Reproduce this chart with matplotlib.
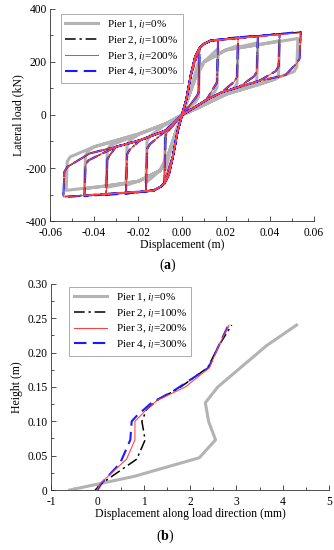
import numpy as np
import matplotlib
matplotlib.use('Agg')
import matplotlib.pyplot as plt
from matplotlib.ticker import MultipleLocator, FormatStrFormatter

plt.rcParams['font.family'] = 'Liberation Serif'
plt.rcParams['mathtext.fontset'] = 'custom'
plt.rcParams['mathtext.rm'] = 'Liberation Serif'
plt.rcParams['mathtext.it'] = 'Liberation Serif:italic'
plt.rcParams['mathtext.bf'] = 'Liberation Serif:bold'
plt.rcParams['axes.unicode_minus'] = False

labels = [r'Pier 1, $i_l$=0%', r'Pier 2, $i_l$=100%',
          r'Pier 3, $i_l$=200%', r'Pier 4, $i_l$=300%']

# ---- (a) hysteresis: cycle amplitudes (m) ----
amps = [0.008, 0.0164, 0.0255, 0.0345, 0.0444, 0.054]
amps_p1 = [0.008, 0.0164, 0.0255, 0.0345, 0.0444, 0.0527]

# loading skeleton, positive side (x, kN)
skel_x = [0.0, 0.002, 0.004, 0.006, 0.008, 0.010, 0.013]
skel_y = [0.0, 60, 150, 220, 252, 268, 280]
skel_x_p1 = [0.0, 0.003, 0.006, 0.010, 0.020, 0.035]
skel_y_p1 = [0.0, 70, 140, 200, 245, 265]
# loading skeleton, negative side
nskel_x = [0.0, -0.002, -0.004, -0.006, -0.008, -0.010, -0.013]
nskel_y = [0.0, -60, -150, -225, -258, -272, -285]
nskel_x_p1 = [0.0, -0.003, -0.006, -0.010, -0.020, -0.035]
nskel_y_p1 = [0.0, -70, -145, -210, -250, -268]

# unloading (return) branches
ret_x = [0.052, 0.047, 0.035, 0.026, 0.018, 0.011, 0.005, 0.0]
ret_y = [175, 150, 128, 106, 85, 56, 25, 0.0]
ret_x_p1 = [0.0505, 0.035, 0.020, 0.008, 0.0]
ret_y_p1 = [160, 115, 78, 30, 0.0]
nret_x = [-0.051, -0.042, -0.030, -0.019, -0.007, 0.0]
nret_y = [-171, -145, -120, -95, -57, 0.0]
nret_x_p1 = [-0.0517, -0.040, -0.019, -0.007, 0.0]
nret_y_p1 = [-158, -120, -70, -32, 0.0]

# peak loads and load at end of the steep drop, per cycle
peaks = {2: [250, 282, 292, 298, 304, 312],
         3: [248, 280, 290, 297, 303, 310],
         4: [252, 283, 293, 300, 305, 313]}
drops = [65, 105, 125, 145, 165, 195]
npeaks = {2: [-252, -286, -296, -300, -305, -308],
          3: [-250, -284, -294, -299, -304, -309],
          4: [-253, -287, -297, -302, -306, -310]}
ndrops = [-60, -110, -130, -150, -171, -196]
peaks_p1 = [215, 250, 262, 272, 280, 288]
drops_p1 = [50, 85, 100, 115, 135, 163]
npeaks_p1 = [-220, -255, -265, -273, -278, -284]
ndrops_p1 = [-45, -80, -95, -115, -135, -158]

# ---- (b) displacement profiles along height ----
h_p1 = [0, 0.01, 0.02, 0.047, 0.073, 0.10, 0.127, 0.15, 0.21, 0.24]
d_p1 = [-0.6, 0.1, 0.8, 2.2, 2.55, 2.4, 2.33, 2.6, 3.65, 4.3]
h_p = [0, 0.01, 0.045, 0.073, 0.10, 0.117, 0.13, 0.15, 0.178, 0.21, 0.24]
d_p2 = [-0.05, 0.1, 0.85, 1.03, 0.96, 1.06, 1.28, 1.8, 2.38, 2.62, 2.9]
d_p3 = [-0.01, 0.07, 0.63, 0.81, 0.81, 1.06, 1.28, 1.9, 2.42, 2.62, 2.84]
h_p4 = [0, 0.01, 0.039, 0.073, 0.10, 0.108, 0.127, 0.144, 0.178, 0.21, 0.24]
d_p4 = [0.0, 0.09, 0.49, 0.71, 0.74, 0.85, 1.17, 1.64, 2.4, 2.62, 2.83]

styles = [dict(color='#b3b3b3', lw=2.2, ls='-', zorder=2),
          dict(color='black', lw=1.1, ls=(0, (7, 2.5, 1.5, 2.5)), zorder=3),
          dict(color='#ff4040', lw=0.75, ls='-', zorder=5),
          dict(color='#1a1aff', lw=1.5, ls=(0, (6, 3)), zorder=4)]


def build_loop(amp_list, sx, sy, nsx, nsy, rx, ry, nrx, nry, pk, dr, npk, ndr):
    xs, ys = [], []
    for a, p, d, q, e in zip(amp_list, pk, dr, npk, ndr):
        # positive loading, drop, return
        for x, y in zip(sx, sy):
            if x < a - 0.002:
                xs.append(x); ys.append(y)
        xs += [a, a - 0.0005, a - 0.0018]
        ys += [p, d + 18, d]
        for x, y in zip(rx, ry):
            if x < a - 0.004:
                xs.append(x); ys.append(y)
        # negative loading, drop, return
        for x, y in zip(nsx, nsy):
            if x > -a + 0.002:
                xs.append(x); ys.append(y)
        xs += [-a, -a + 0.0005, -a + 0.0018]
        ys += [q, e - 18, e]
        for x, y in zip(nrx, nry):
            if x > -a + 0.004:
                xs.append(x); ys.append(y)
    return xs, ys


def style_axes(ax):
    for s in ['top', 'right']:
        ax.spines[s].set_visible(False)
    for s in ['left', 'bottom']:
        ax.spines[s].set_linewidth(0.6)
        ax.spines[s].set_color('#333333')
    ax.tick_params(which='both', direction='in', labelsize=8.3, width=0.6,
                   colors='#333333', labelcolor='black')
    ax.tick_params(axis='y', pad=2.5)
    ax.tick_params(axis='x', pad=4.5)
    ax.tick_params(which='major', length=3.5)
    ax.tick_params(which='minor', length=2)


def add_legend(ax, anchor):
    leg = ax.legend(loc='upper left', bbox_to_anchor=anchor, fontsize=8,
                    frameon=True, fancybox=False, edgecolor='#888888',
                    handlelength=3.0, handletextpad=0.8, borderpad=0.4,
                    labelspacing=0.3, borderaxespad=0)
    leg.get_frame().set_linewidth(0.6)


fig = plt.figure(figsize=(3.34, 5.5), dpi=100)

# (a)
ax1 = fig.add_axes([0.150, 0.598, 0.790, 0.386])
loops = [build_loop(amps_p1, skel_x_p1, skel_y_p1, nskel_x_p1, nskel_y_p1,
                    ret_x_p1, ret_y_p1, nret_x_p1, nret_y_p1,
                    peaks_p1, drops_p1, npeaks_p1, ndrops_p1)]
for k in (2, 3, 4):
    loops.append(build_loop(amps, skel_x, skel_y, nskel_x, nskel_y,
                            ret_x, ret_y, nret_x, nret_y,
                            peaks[k], drops, npeaks[k], ndrops))
for (lx, ly), st, lab in zip(loops, styles, labels):
    ax1.plot(lx, ly, label=lab, **st)
ax1.set_xlim(-0.06, 0.06)
ax1.set_ylim(-400, 400)
ax1.xaxis.set_major_locator(MultipleLocator(0.02))
ax1.xaxis.set_minor_locator(MultipleLocator(0.01))
ax1.xaxis.set_major_formatter(FormatStrFormatter('%.2f'))
ax1.yaxis.set_major_locator(MultipleLocator(200))
ax1.yaxis.set_minor_locator(MultipleLocator(100))
style_axes(ax1)
ax1.set_xlabel('Displacement (m)', fontsize=8.5, labelpad=0)
ax1.set_ylabel('Lateral load (kN)', fontsize=8.5, labelpad=1)
add_legend(ax1, (0.04, 0.975))
fig.text(0.503, 0.518, r'($\mathbf{a}$)', ha='center', va='center', fontsize=10)

# (b)
ax2 = fig.add_axes([0.153, 0.109, 0.832, 0.375])
ax2.plot(d_p1, h_p1, label=labels[0], **styles[0])
ax2.plot(d_p2, h_p, label=labels[1], **styles[1])
ax2.plot(d_p3, h_p, label=labels[2], **styles[2])
ax2.plot(d_p4, h_p4, label=labels[3], **styles[3])
ax2.set_xlim(-1, 5)
ax2.set_ylim(0, 0.30)
ax2.xaxis.set_major_locator(MultipleLocator(1))
ax2.xaxis.set_minor_locator(MultipleLocator(0.5))
ax2.yaxis.set_major_locator(MultipleLocator(0.05))
ax2.yaxis.set_minor_locator(MultipleLocator(0.025))
ax2.yaxis.set_major_formatter(lambda v, p: '0' if abs(v) < 1e-9 else '%.2f' % v)
style_axes(ax2)
ax2.set_xlabel('Displacement along load direction (mm)', fontsize=8.5, labelpad=0)
ax2.set_ylabel('Height (m)', fontsize=8.5, labelpad=3)
add_legend(ax2, (0.065, 0.985))
fig.text(0.494, 0.024, r'($\mathbf{b}$)', ha='center', va='center', fontsize=10)

fig.savefig('out.png', dpi=100)
